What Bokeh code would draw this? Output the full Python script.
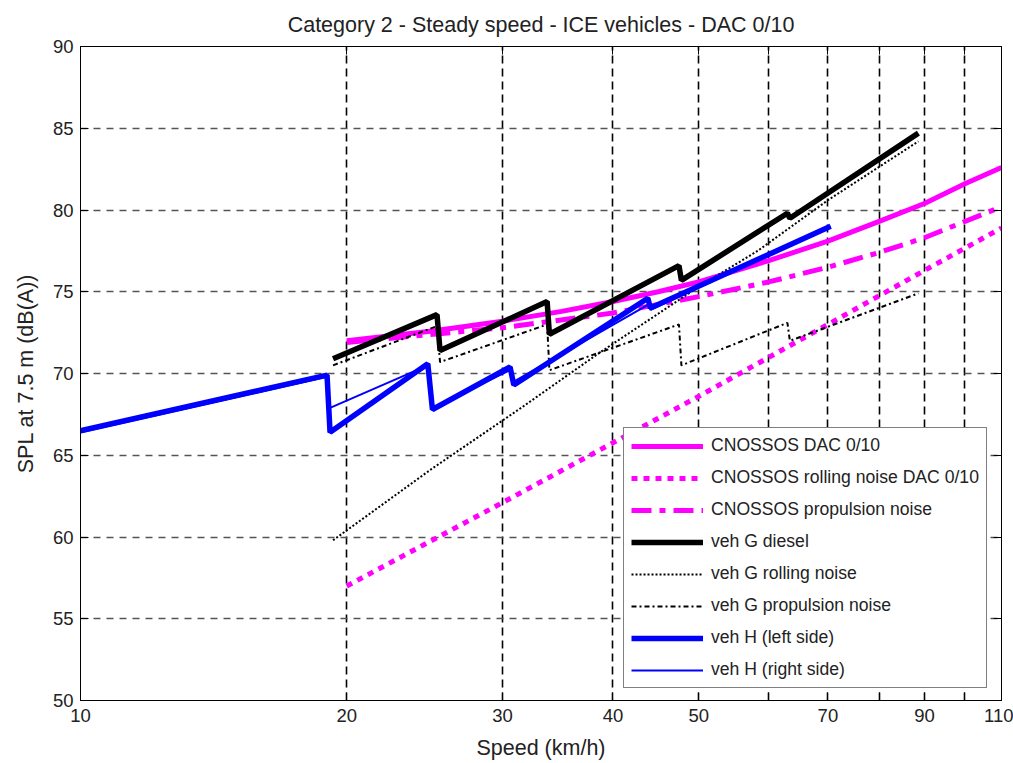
from bokeh.plotting import figure
from bokeh.models import FixedTicker, LogAxis, LinearAxis, Legend, LegendItem, Range1d
from bokeh.embed import file_html
from bokeh.resources import INLINE

# ---- data ----
x_ticks = [10, 20, 30, 40, 50, 60, 70, 80, 90, 100, 110]
x_tick_labels = ["10", "20", "30", "40", "50", "", "70", "", "90", "", "110"]
y_ticks = [50, 55, 60, 65, 70, 75, 80, 85, 90]

cn_speed = [20, 25, 30, 35, 40, 45, 50, 60, 70, 80, 90, 100, 110]
cn_total = [72.0, 72.6, 73.2, 73.8, 74.4, 75.0, 75.6, 76.9, 78.1, 79.3, 80.4, 81.6, 82.6]

cnr_speed = [20, 30, 50, 70, 90, 110]
cnr_vals = [57.0, 62.1, 68.6, 73.0, 76.3, 78.9]

cnp_speed = [20, 30, 40, 50, 60, 70, 80, 90, 100, 110]
cnp_vals = [71.9, 72.8, 73.7, 74.7, 75.6, 76.5, 77.4, 78.3, 79.3, 80.2]

g_speed = [19.3, 25.3, 25.5, 33.7, 33.9, 47.5, 47.8, 63.0, 63.4, 88.6]
g_total = [70.9, 73.6, 71.4, 74.4, 72.4, 76.6, 75.7, 79.8, 79.5, 84.7]

gr_speed = [19.3, 25.0, 31.5, 38.7, 50.0, 58.3, 70.0, 88.6]
gr_vals = [59.8, 64.2, 67.9, 71.3, 75.3, 77.5, 80.6, 84.2]

gp_speed = [19.3, 25.3, 25.5, 33.7, 33.9, 47.5, 47.8, 63.0, 63.4, 88.6]
gp_vals = [70.5, 72.9, 70.7, 73.0, 70.2, 73.0, 70.5, 73.1, 72.0, 74.9]

hl_speed = [10, 19.0, 19.15, 24.7, 25.0, 30.6, 30.9, 43.8, 44.1, 70.5]
hl_vals = [66.5, 69.9, 66.4, 70.6, 67.8, 70.4, 69.3, 74.6, 74.0, 79.0]

hr_speed = [10, 19.0, 19.15, 24.7, 25.0, 30.6, 30.9, 43.8, 44.1, 70.5]
hr_vals = [66.4, 69.8, 67.9, 70.5, 67.9, 70.2, 69.5, 74.2, 73.9, 79.0]

FONT = "Liberation Sans"
TXT = "#222222"

p = figure(width=1013, height=763, x_axis_type="log",
           x_range=Range1d(10, 110), y_range=Range1d(50, 90),
           output_backend="svg", toolbar_location=None,
           min_border_left=80, min_border_right=12, min_border_top=46,
           min_border_bottom=63,
           x_axis_label="Speed (km/h)", y_axis_label="SPL at 7.5 m (dB(A))")

p.title.text = "Category 2 - Steady speed - ICE vehicles - DAC 0/10"
p.title.align = "center"
p.title.text_font = FONT
p.title.text_font_size = "21.5px"
p.title.text_font_style = "normal"
p.title.text_color = TXT
p.title.standoff = 20
p.title.text_line_height = 0.8

p.outline_line_color = "black"
p.outline_line_width = 1
p.background_fill_color = "white"
p.border_fill_color = "white"

xa = p.xaxis[0]
xa.ticker = FixedTicker(ticks=x_ticks)
xa.major_label_overrides = {t: l for t, l in zip(x_ticks, x_tick_labels)}
ya = p.yaxis[0]
ya.ticker = FixedTicker(ticks=y_ticks)

for ax in (xa, ya):
    ax.major_tick_in = 8
    ax.major_tick_out = 0
    ax.minor_tick_line_color = None
    ax.axis_line_color = "black"
    ax.major_tick_line_color = "black"
    ax.major_label_text_font = FONT
    ax.major_label_text_font_size = "18.5px"
    ax.major_label_text_color = TXT
    ax.axis_label_text_font = FONT
    ax.axis_label_text_font_size = "21.5px"
    ax.axis_label_text_font_style = "normal"
    ax.axis_label_text_color = TXT
xa.major_label_standoff = 8
xa.axis_label_standoff = 11
ya.major_label_standoff = 7
ya.axis_label_standoff = 12

# box ticks on top and right
ra = LinearAxis(ticker=FixedTicker(ticks=y_ticks), major_label_text_font_size="0px",
                major_tick_in=8, major_tick_out=0, major_label_standoff=0,
                minor_tick_line_color=None, axis_line_color="black")
ra.major_label_overrides = {t: "" for t in y_ticks}
p.add_layout(ra, "right")
ta = LogAxis(ticker=FixedTicker(ticks=x_ticks), major_label_text_font_size="0px",
             major_tick_in=8, major_tick_out=0, major_label_standoff=0,
             minor_tick_line_color=None, axis_line_color="black")
ta.major_label_overrides = {t: "" for t in x_ticks}
p.add_layout(ta, "above")

p.xgrid[0].grid_line_color = "black"
p.xgrid[0].grid_line_dash = "8 5"
p.xgrid[0].grid_line_width = 1.6
p.ygrid[0].grid_line_color = "#555555"
p.ygrid[0].grid_line_dash = "7 6"
p.ygrid[0].grid_line_width = 1.3

MAG = "#FF00FF"
BLUE = "#0000FF"

r1 = p.line(cn_speed, cn_total, line_color=MAG, line_width=5)
r2 = p.line(cnr_speed, cnr_vals, line_color=MAG, line_width=5, line_dash="6 6")
r3 = p.line(cnp_speed, cnp_vals, line_color=MAG, line_width=5, line_dash="20 8 6 8")
r4 = p.line(g_speed, g_total, line_color="black", line_width=5.5)
r5 = p.line(gr_speed, gr_vals, line_color="black", line_width=2, line_dash="2 2")
r6 = p.line(gp_speed, gp_vals, line_color="black", line_width=2, line_dash="5 3 2 3")
r7 = p.line(hl_speed, hl_vals, line_color=BLUE, line_width=5.5)
r8 = p.line(hr_speed, hr_vals, line_color=BLUE, line_width=2)

labels = ["CNOSSOS DAC 0/10", "CNOSSOS rolling noise DAC 0/10", "CNOSSOS propulsion noise",
          "veh G diesel", "veh G rolling noise", "veh G propulsion noise",
          "veh H (left side)", "veh H (right side)"]
rends = [r1, r2, r3, r4, r5, r6, r7, r8]
legend = Legend(items=[LegendItem(label=l, renderers=[r]) for l, r in zip(labels, rends)],
                location=(543, 12), margin=0, padding=7, spacing=11,
                glyph_width=72, glyph_height=20, label_height=20, label_standoff=8,
                label_text_font=FONT, label_text_font_size="17.6px", label_text_color=TXT,
                border_line_color="black", border_line_width=1.5,
                background_fill_color="white", background_fill_alpha=1)
p.add_layout(legend)

open("out.html", "w").write(file_html(p, INLINE))
